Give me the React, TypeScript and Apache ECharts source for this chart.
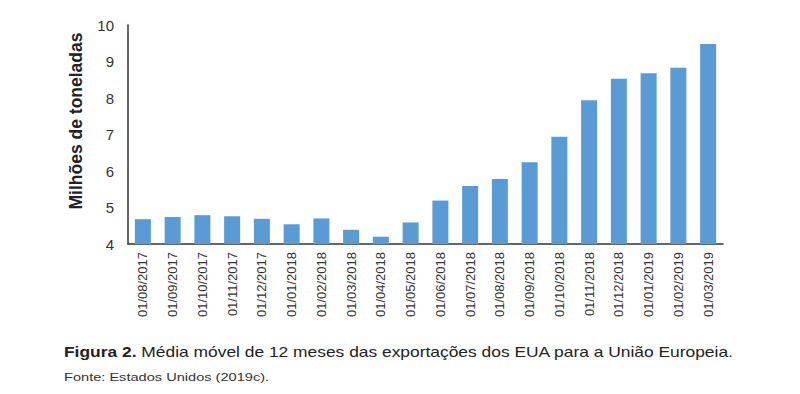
import React, { useEffect, useRef } from "react";
import * as echarts from "echarts";

const categories = [
  "01/08/2017", "01/09/2017", "01/10/2017", "01/11/2017", "01/12/2017",
  "01/01/2018", "01/02/2018", "01/03/2018", "01/04/2018", "01/05/2018",
  "01/06/2018", "01/07/2018", "01/08/2018", "01/09/2018", "01/10/2018",
  "01/11/2018", "01/12/2018", "01/01/2019", "01/02/2019", "01/03/2019",
];
const values = [
  4.68, 4.74, 4.79, 4.76, 4.69, 4.54, 4.7, 4.39, 4.2, 4.59,
  5.19, 5.59, 5.78, 6.24, 6.94, 7.94, 8.53, 8.68, 8.83, 9.48,
];
const yAxisName = "Milhões de toneladas";
const captionBold = "Figura 2.";
const captionRest = " Média móvel de 12 meses das exportações dos EUA para a União Europeia.";
const sourceText = "Fonte: Estados Unidos (2019c).";

const FONT = "Liberation Sans, Arial, sans-serif";

export default function App() {
  const ref = useRef<HTMLDivElement>(null);
  useEffect(() => {
    if (!ref.current) return;
    const chart = echarts.init(ref.current, null, { renderer: "svg" });
    chart.setOption({
      animation: false,
      backgroundColor: "#ffffff",
      textStyle: { fontFamily: FONT },
      grid: { left: 128, right: 77, top: 25, bottom: 150, containLabel: false },
      xAxis: {
        type: "category",
        data: categories,
        axisLine: { lineStyle: { color: "#333333", width: 1.5 } },
        axisTick: { show: false },
        axisLabel: {
          rotate: 90,
          interval: 0,
          fontSize: 13,
          color: "#333333",
          margin: 8,
        },
      },
      yAxis: {
        type: "value",
        min: 4,
        max: 10,
        interval: 1,
        axisLine: { show: true, lineStyle: { color: "#333333", width: 1.5 } },
        axisTick: { show: false },
        splitLine: { show: false },
        axisLabel: { fontSize: 15, color: "#333333", margin: 14 },
      },
      series: [
        {
          type: "bar",
          data: values,
          barWidth: 16,
          itemStyle: { color: "#5b9bd5" },
        },
      ],
      graphic: [
        {
          type: "text",
          x: 76,
          y: 121,
          rotation: Math.PI / 2,
          style: {
            text: yAxisName,
            fontSize: 17.5,
            fontWeight: "bold",
            fill: "#222222",
            fontFamily: FONT,
            align: "center",
            verticalAlign: "middle",
          },
        },
        {
          type: "text",
          x: 64,
          y: 344,
          scaleX: 1.16,
          style: {
            rich: {
              b: { fontSize: 15, fontWeight: "bold", fill: "#222222", fontFamily: FONT },
              n: { fontSize: 15, fill: "#222222", fontFamily: FONT },
            },
            text: `{b|${captionBold}}{n|${captionRest}}`,
          },
        },
        {
          type: "text",
          x: 64,
          y: 371,
          scaleX: 1.27,
          style: {
            text: sourceText,
            fontSize: 11.5,
            fill: "#333333",
            fontFamily: FONT,
          },
        },
      ],
    });
    return () => chart.dispose();
  }, []);
  return (
    <div
      ref={ref}
      style={{ position: "fixed", left: 0, top: 0, width: 800, height: 394, background: "#fff" }}
    />
  );
}
